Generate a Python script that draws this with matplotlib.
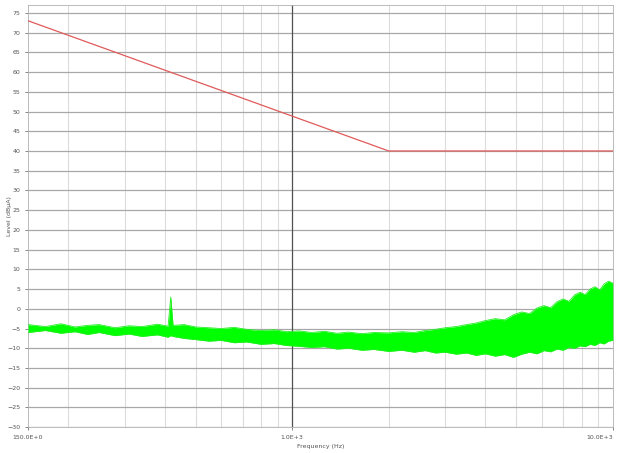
import matplotlib
matplotlib.use('Agg')
import matplotlib.pyplot as plt
from matplotlib.ticker import FixedLocator, LogLocator, NullFormatter

# limit line (red)
limit_freq = [150, 2000, 10000]
limit_level = [73, 40, 40]

# measured spectrum, read as upper / lower envelope of the green trace
env_freq = [150, 170, 190, 210, 230, 250, 280, 310, 340, 380, 410, 418, 425, 460,
            500, 550, 600, 660, 720, 800, 880, 960, 1050, 1150, 1260, 1380, 1500,
            1650, 1800, 2000, 2200, 2400, 2600, 2800, 3000, 3250, 3500, 3750, 4000,
            4300, 4600, 4900, 5200, 5500, 5800, 6100, 6400, 6700, 7000, 7300, 7600,
            7900, 8200, 8500, 8800, 9100, 9400, 9700, 10000]
env_upper = [-4.0, -4.5, -3.8, -4.6, -4.2, -4.0, -4.8, -4.3, -4.5, -3.9, -4.4, 3.0,
             -4.2, -4.0, -4.6, -4.8, -5.0, -4.7, -5.2, -5.5, -5.3, -5.8, -5.6, -6.0,
             -5.7, -6.2, -5.9, -6.3, -6.0, -6.1, -5.8, -6.0, -5.5, -5.2, -4.8, -4.5,
             -4.0, -3.6, -3.0, -2.5, -2.8, -1.5, -0.8, -1.2, 0.2, 0.8, 0.3, 1.8, 2.5,
             1.9, 3.5, 4.2, 3.6, 5.0, 5.6, 4.8, 6.3, 7.0, 6.5]
env_lower = [-6.0, -5.5, -6.2, -5.8, -6.5, -6.0, -6.8, -6.4, -7.0, -6.6, -7.2, -6.8,
             -7.0, -7.5, -7.8, -8.2, -8.0, -8.6, -8.4, -9.0, -8.8, -9.3, -9.5, -9.8,
             -9.6, -10.2, -10.0, -10.5, -10.3, -10.8, -10.5, -11.0, -10.6, -11.2,
             -11.0, -11.5, -11.2, -11.8, -11.4, -12.0, -11.6, -12.3, -11.5, -11.0,
             -11.4, -10.6, -10.9, -10.2, -10.5, -9.8, -10.0, -9.4, -9.6, -9.0, -9.3,
             -8.6, -8.9, -8.2, -8.0]

x_ticks = [150, 1000, 10000]
x_tick_labels = ['150.0E+0', '1.0E+3', '10.0E+3']
y_ticks = list(range(-30, 80, 5))

fig = plt.figure(figsize=(6.24, 4.53), dpi=100)
ax = fig.add_axes([0.045, 0.057, 0.937, 0.932])

ax.set_xscale('log')
ax.set_xlim(150, 10000)
ax.set_ylim(-30, 77)

ax.fill_between(env_freq, env_lower, env_upper, color='#00ff00', lw=0, zorder=3)
ax.plot(env_freq, env_upper, color='#22ee22', lw=0.6, zorder=3)
ax.plot(env_freq, env_lower, color='#22ee22', lw=0.6, zorder=3)
ax.plot(limit_freq, limit_level, color='#e05a5a', lw=0.9, zorder=4)

ax.xaxis.set_major_locator(FixedLocator(x_ticks))
ax.set_xticklabels(x_tick_labels)
ax.xaxis.set_minor_locator(LogLocator(base=10, subs=range(2, 10)))
ax.xaxis.set_minor_formatter(NullFormatter())
ax.set_yticks(y_ticks)

ax.grid(axis='y', which='major', color='#a8a8a8', lw=0.9)
ax.grid(axis='x', which='minor', color='#dcdcdc', lw=0.8)
ax.axvline(1000, color='#505050', lw=0.9, zorder=2)

ax.tick_params(axis='both', labelsize=4.5, colors='#555555', length=2, width=0.5)
ax.tick_params(axis='x', which='minor', length=0)
labels = ax.get_xticklabels()
labels[-1].set_horizontalalignment('right')
for s in ax.spines.values():
    s.set_color('#b0b0b0')
    s.set_linewidth(0.6)

ax.set_xlabel('Frequency (Hz)', fontsize=4.5, color='#555555', labelpad=3)
ax.set_ylabel('Level (dBµA)', fontsize=4.5, color='#555555')
ax.yaxis.set_label_coords(-0.028, 0.5)

plt.savefig('out.png', dpi=100)
